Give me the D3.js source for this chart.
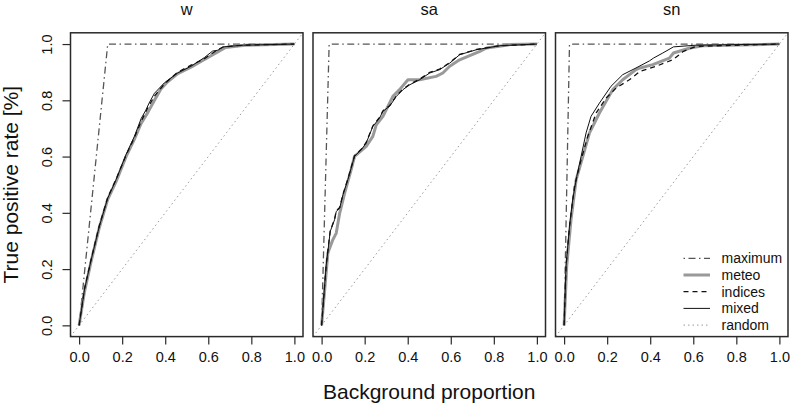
<!DOCTYPE html>
<html>
<head>
<meta charset="utf-8">
<script src="https://cdn.jsdelivr.net/npm/d3@7"></script>
<style>
  body { margin: 0; background: #fff; }
  svg { font-family: "Liberation Sans", Arial, sans-serif; }
  .frame { fill: none; stroke: #2a2a2a; stroke-width: 1.5; }
  .tick line { stroke: #2a2a2a; stroke-width: 1.2; }
</style>
</head>
<body>
<div id="chart"></div>
<script>
// Panels and the prevalence that sets the "maximum" curve corner
const panels = ["w", "sa", "sn"];
const prevalence = [0.133, 0.035, 0.025];
const tickValues = [0, 0.2, 0.4, 0.6, 0.8, 1.0];
const seriesNames = ["maximum", "meteo", "indices", "mixed", "random"];

// ROC curves, [background proportion, true positive rate]
const wMeteo = [[0,0],[0.025,0.12],[0.056,0.228],[0.094,0.348],[0.133,0.448],[0.172,0.512],[0.218,0.6],[0.257,0.662],[0.288,0.718],[0.32,0.758],[0.35,0.8],[0.38,0.84],[0.41,0.865],[0.458,0.895],[0.52,0.918],[0.582,0.945],[0.644,0.972],[0.68,0.988],[0.77,0.996],[1,1]];
const wIndices = [[0,0],[0.025,0.13],[0.056,0.235],[0.094,0.355],[0.133,0.455],[0.172,0.52],[0.218,0.605],[0.257,0.668],[0.288,0.725],[0.32,0.775],[0.35,0.815],[0.396,0.858],[0.458,0.9],[0.52,0.925],[0.582,0.948],[0.644,0.98],[0.67,0.99],[0.76,0.996],[1,1]];
const wMixed = [[0,0],[0.025,0.127],[0.056,0.233],[0.094,0.352],[0.133,0.452],[0.172,0.518],[0.218,0.607],[0.257,0.672],[0.288,0.735],[0.31,0.765],[0.325,0.79],[0.35,0.825],[0.396,0.862],[0.458,0.897],[0.52,0.921],[0.582,0.952],[0.62,0.975],[0.644,0.978],[0.67,0.99],[0.763,0.996],[1,1]];

const saMeteo = [[0,0],[0.029,0.257],[0.052,0.304],[0.068,0.328],[0.084,0.399],[0.107,0.47],[0.137,0.553],[0.153,0.601],[0.207,0.636],[0.238,0.672],[0.254,0.713],[0.285,0.743],[0.331,0.814],[0.362,0.838],[0.401,0.873],[0.455,0.873],[0.532,0.885],[0.563,0.897],[0.595,0.921],[0.641,0.944],[0.735,0.974],[0.766,0.986],[0.875,0.998],[1,1]];
const saIndices = [[0,0],[0.021,0.212],[0.04,0.336],[0.06,0.377],[0.068,0.407],[0.084,0.419],[0.099,0.466],[0.122,0.52],[0.153,0.603],[0.184,0.626],[0.207,0.65],[0.238,0.709],[0.269,0.739],[0.285,0.763],[0.316,0.781],[0.347,0.816],[0.378,0.84],[0.409,0.857],[0.455,0.875],[0.502,0.899],[0.548,0.911],[0.595,0.934],[0.641,0.963],[0.72,0.981],[0.828,0.994],[1,1]];
const saMixed = [[0,0],[0.021,0.21],[0.04,0.334],[0.06,0.375],[0.068,0.405],[0.084,0.417],[0.099,0.464],[0.122,0.518],[0.153,0.601],[0.184,0.624],[0.207,0.648],[0.238,0.707],[0.269,0.737],[0.285,0.761],[0.316,0.779],[0.347,0.814],[0.378,0.838],[0.409,0.855],[0.455,0.873],[0.502,0.897],[0.548,0.909],[0.595,0.932],[0.641,0.962],[0.72,0.98],[0.828,0.994],[1,1]];

const snMeteo = [[0,0],[0.012,0.21],[0.032,0.375],[0.056,0.518],[0.087,0.601],[0.118,0.684],[0.164,0.755],[0.226,0.838],[0.272,0.873],[0.334,0.909],[0.353,0.915],[0.412,0.927],[0.489,0.95],[0.508,0.968],[0.585,0.986],[0.644,0.994],[1,1]];
const snIndices = [[0,0],[0.009,0.21],[0.025,0.352],[0.048,0.494],[0.079,0.589],[0.11,0.672],[0.149,0.755],[0.195,0.808],[0.242,0.844],[0.303,0.873],[0.353,0.903],[0.427,0.921],[0.505,0.944],[0.554,0.974],[0.613,0.992],[1,1]];
const snMixed = [[0,0],[0.009,0.21],[0.025,0.352],[0.04,0.447],[0.059,0.53],[0.079,0.601],[0.102,0.684],[0.125,0.743],[0.164,0.79],[0.218,0.85],[0.272,0.891],[0.334,0.915],[0.396,0.94],[0.415,0.95],[0.458,0.968],[0.508,0.99],[0.613,0.996],[1,1]];

const meteo = [wMeteo, saMeteo, snMeteo];
const indices = [wIndices, saIndices, snIndices];
const mixed = [wMixed, saMixed, snMixed];

// Layout
const W = 791, H = 407;
const margin = { top: 32.8, left: 70.5 };
const panelW = 232.5, panelH = 303.8, panelStep = 242.5;

const styles = {
  maximum: { stroke: "#555", width: 1.3, dash: "1.5,3.5,7,3.5" },
  meteo:   { stroke: "#999", width: 3,   dash: null },
  indices: { stroke: "#111", width: 1.3, dash: "5,4" },
  mixed:   { stroke: "#111", width: 1,   dash: null },
  random:  { stroke: "#999", width: 1,   dash: "1.5,3" }
};

const svg = d3.select("#chart").append("svg")
  .attr("width", W).attr("height", H);

const y = d3.scaleLinear().domain([-0.04, 1.04]).range([margin.top + panelH, margin.top]);
const fmt = d3.format(".1f");

function styled(sel, s) {
  sel.attr("fill", "none")
    .attr("stroke", s.stroke)
    .attr("stroke-width", s.width)
    .attr("stroke-linejoin", "round")
    .attr("stroke-dasharray", s.dash);
  return sel;
}

panels.forEach((name, i) => {
  const x0 = margin.left + i * panelStep;
  const x = d3.scaleLinear().domain([-0.04, 1.04]).range([x0, x0 + panelW]);
  const line = d3.line().x(d => x(d[0])).y(d => y(d[1]));

  svg.append("clipPath").attr("id", "clip" + i)
    .append("rect")
    .attr("x", x0).attr("y", margin.top)
    .attr("width", panelW).attr("height", panelH);

  const g = svg.append("g").attr("clip-path", `url(#clip${i})`);

  // random classifier
  styled(g.append("path"), styles.random)
    .attr("d", line([[-0.04, -0.04], [1.04, 1.04]]));

  // maximum
  styled(g.append("path"), styles.maximum)
    .attr("d", line([[0, 0], [prevalence[i], 1], [1, 1]]));

  styled(g.append("path"), styles.meteo).attr("d", line(meteo[i]));
  styled(g.append("path"), styles.indices).attr("d", line(indices[i]));
  styled(g.append("path"), styles.mixed).attr("d", line(mixed[i]));

  // frame
  svg.append("rect").attr("class", "frame")
    .attr("x", x0).attr("y", margin.top)
    .attr("width", panelW).attr("height", panelH);

  // x axis
  const xa = svg.append("g")
    .attr("transform", `translate(0,${margin.top + panelH})`)
    .call(d3.axisBottom(x).tickValues(tickValues).tickFormat(fmt).tickSize(8).tickPadding(7));
  xa.select(".domain").remove();
  xa.selectAll("text").attr("font-size", 14.5).attr("fill", "#111")
    .attr("font-family", "Liberation Sans, Arial, sans-serif");

  // title
  svg.append("text")
    .attr("x", x0 + panelW / 2).attr("y", 15)
    .attr("text-anchor", "middle")
    .attr("font-size", 16.5).attr("fill", "#111")
    .text(name);

  // y axis only on first panel
  if (i === 0) {
    const ya = svg.append("g")
      .attr("transform", `translate(${x0},0)`)
      .call(d3.axisLeft(y).tickValues(tickValues).tickFormat(fmt).tickSize(8));
    ya.select(".domain").remove();
    ya.selectAll("text")
      .attr("font-size", 14.5).attr("fill", "#111")
      .attr("font-family", "Liberation Sans, Arial, sans-serif")
      .attr("x", null).attr("dy", null)
      .attr("text-anchor", "middle")
      .attr("transform", "translate(-18.5,0) rotate(-90)");
  }

  // legend in last panel
  if (i === panels.length - 1) {
    const right = x0 + panelW;
    const bottom = margin.top + panelH;
    const rowH = 16.7;
    seriesNames.forEach((s, k) => {
      const cy = bottom - 11.5 - (seriesNames.length - 1 - k) * rowH;
      styled(svg.append("line"), styles[s])
        .attr("x1", right - 104.5).attr("x2", right - 78)
        .attr("y1", cy).attr("y2", cy);
      svg.append("text")
        .attr("x", right - 66.5).attr("y", cy)
        .attr("dy", "0.35em")
        .attr("font-size", 14).attr("fill", "#111")
        .text(s);
    });
  }
});

// axis labels
svg.append("text")
  .attr("x", margin.left + panelStep + panelW / 2).attr("y", 399)
  .attr("text-anchor", "middle")
  .attr("font-size", 21).attr("fill", "#111")
  .text("Background proportion");

svg.append("text")
  .attr("transform", `translate(18,${margin.top + panelH / 2}) rotate(-90)`)
  .attr("text-anchor", "middle")
  .attr("font-size", 21).attr("fill", "#111")
  .text("True positive rate [%]");
</script>
</body>
</html>
